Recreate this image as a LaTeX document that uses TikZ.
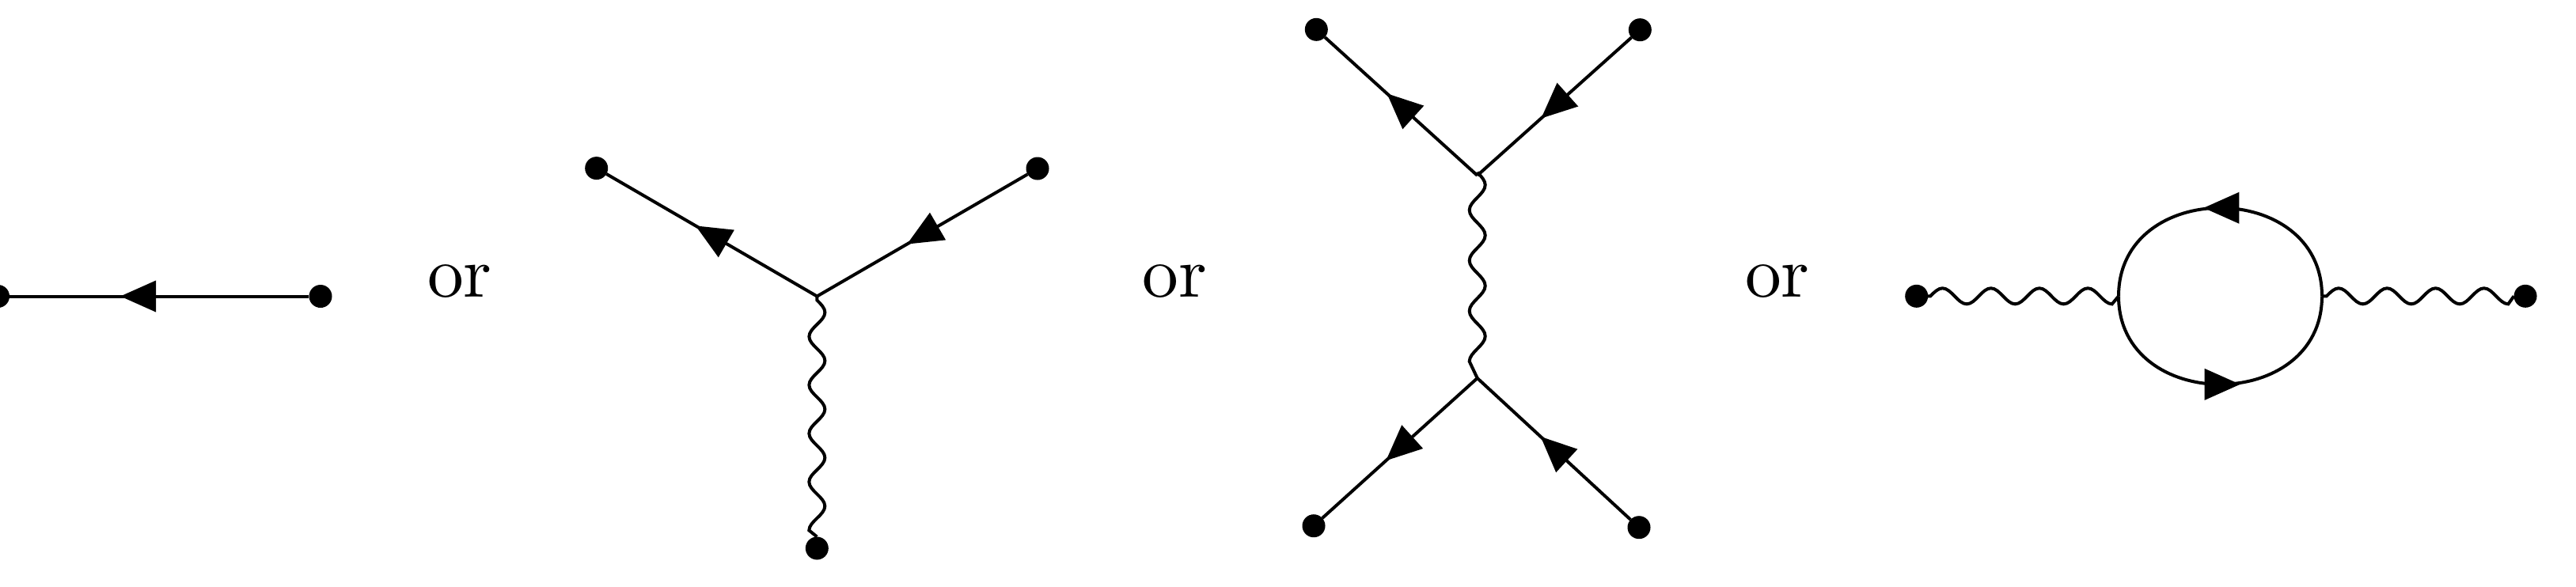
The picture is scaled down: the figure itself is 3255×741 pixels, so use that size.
\documentclass[tikz,border=0pt]{standalone}
\usepackage{amsmath}
\usetikzlibrary{arrows.meta,decorations.markings}

\font\orfont=cmr10 at 26pt

% sine wave: axis to crest, crest to crest, then straight to the end
\pgfdeclaredecoration{wiggle}{rise}{
  \state{rise}[width=+.25\pgfdecorationsegmentlength, next state=fall]{
    \pgfpathlineto{\pgfpointorigin}
    \pgfpathcurveto
      {\pgfpoint{.0833\pgfdecorationsegmentlength}{.5236\pgfdecorationsegmentamplitude}}
      {\pgfpoint{.1667\pgfdecorationsegmentlength}{\pgfdecorationsegmentamplitude}}
      {\pgfpoint{.25\pgfdecorationsegmentlength}{\pgfdecorationsegmentamplitude}}
  }
  \state{fall}[switch if less than=+.5\pgfdecorationsegmentlength to final,
               width=+.5\pgfdecorationsegmentlength, next state=climb]{
    \pgfpathcurveto
      {\pgfpoint{.1821\pgfdecorationsegmentlength}{\pgfdecorationsegmentamplitude}}
      {\pgfpoint{.3179\pgfdecorationsegmentlength}{-\pgfdecorationsegmentamplitude}}
      {\pgfpoint{.5\pgfdecorationsegmentlength}{-\pgfdecorationsegmentamplitude}}
  }
  \state{climb}[switch if less than=+.5\pgfdecorationsegmentlength to final,
                width=+.5\pgfdecorationsegmentlength, next state=fall]{
    \pgfpathcurveto
      {\pgfpoint{.1821\pgfdecorationsegmentlength}{-\pgfdecorationsegmentamplitude}}
      {\pgfpoint{.3179\pgfdecorationsegmentlength}{\pgfdecorationsegmentamplitude}}
      {\pgfpoint{.5\pgfdecorationsegmentlength}{\pgfdecorationsegmentamplitude}}
  }
  \state{final}{\pgfpathlineto{\pgfpointdecoratedpathlast}}
}

\begin{document}
\begin{tikzpicture}[
  x=.01cm, y=-.01cm,
  line width=.04cm,
  dot/.style={circle, fill, inner sep=0pt, outer sep=0pt, minimum size=.29cm},
  lab/.style={font=\orfont, anchor=base, inner sep=0pt},
  flow/.style={decoration={markings, mark=at position #1 with {\arrow{Triangle[length=.45cm,width=.39cm]}}}, postaction={decorate}},
  loopflow/.style={decoration={markings, mark=at position .5 with {\pgftransformxshift{#1}\arrow{Triangle[length=.45cm,width=.39cm]}}}, postaction={decorate}},
  wav/.style 2 args={decorate, decoration={wiggle, amplitude=.1cm, segment length=#1, pre=lineto, pre length=#2}}
]
\useasboundingbox (0,0) rectangle (3255,741);

% single line
\node[dot] (al) at (-2.5,374.5) {};
\node[dot] (ar) at (405,374.5) {};
\draw[flow=.63] (ar) -- (al);
\node[lab] (ora) at (581,375) {or};

% three legs
\coordinate (bj) at (1032.4,374.5);
\node[dot] (btl) at (753.7,212.6) {};
\node[dot] (btr) at (1311,213) {};
\node[dot] (bb) at (1032.3,693) {};
\draw[flow=.577] (bj) -- (btl);
\draw[flow=.573] (btr) -- (bj);
\draw[wav={.612cm}{.05cm}] (bj) -- (bb);
\node[lab] (orb) at (1484.5,375) {or};

% exchange
\coordinate (cu) at (1866.7,221.8);
\coordinate (cw) at (1866.7,217.7);
\coordinate (cd) at (1866.7,478);
\node[dot] (ctl) at (1663.3,37.3) {};
\node[dot] (ctr) at (2072.3,37.7) {};
\node[dot] (cbl) at (1660,664.7) {};
\node[dot] (cbr) at (2071,666.7) {};
\draw[flow=.594] (cu) -- (ctl);
\draw[flow=.587] (ctr) -- (cu);
\draw[flow=.59] (cd) -- (cbl);
\draw[flow=.588] (cbr) -- (cd);
\draw[wav={.637cm}{.001cm}] (cw) -- (cd);
\node[lab] (orc) at (2246,375) {or};

% loop
\node[dot] (dl) at (2421.7,374.3) {};
\node[dot] (dr) at (3191,374.3) {};
\coordinate (ll) at (2677,374.3);
\coordinate (lr) at (2934,374.3);
\draw[wav={.612cm}{.029cm}] (dl) -- (ll);
\draw[wav={.612cm}{.057cm}] (lr) -- (dr);
\draw[loopflow=.21cm] (lr) .. controls +(0,-148.7) and +(0,-148.7) .. (ll);
\draw[loopflow=.25cm] (ll) .. controls +(0,148.7) and +(0,148.7) .. (lr);
\end{tikzpicture}
\end{document}
